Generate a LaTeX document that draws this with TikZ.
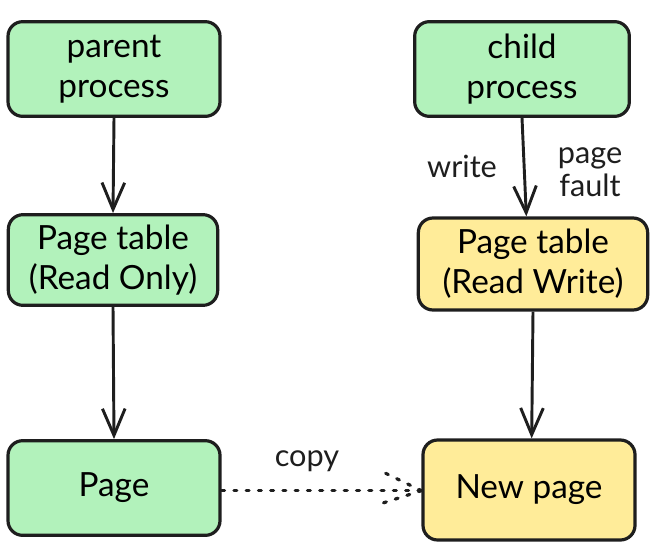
\documentclass[tikz,border=0pt]{standalone}
\usepackage{fontspec}
\setmainfont{Lato}
\usetikzlibrary{arrows.meta}
\definecolor{gfill}{HTML}{B2F2BB}
\definecolor{yfill}{HTML}{FFEC99}
\definecolor{ink}{HTML}{1E1E1E}
\tikzset{
  box/.style={draw=ink, line width=2.4pt, rounded corners=11pt, align=center,
    font=\fontsize{25}{30}\selectfont, inner sep=0pt},
  gbox/.style={box, fill=gfill},
  ybox/.style={box, fill=yfill},
  conn/.style={draw=ink, line width=2.2pt, -{Straight Barb[length=20pt,width=17pt,line width=2.2pt]}},
  lbl/.style={font=\fontsize{23}{25}\selectfont, text=ink, align=center},
  dots/.style={draw=ink, line width=2.4pt, line cap=round, dash pattern=on 2.2pt off 7pt}
}
\begin{document}
\begin{tikzpicture}[x=0.75pt,y=-0.75pt]
\useasboundingbox (0,0) rectangle (656,553);
\node[gbox, minimum width=159pt, minimum height=71pt] (parent) at (114,69) {parent\\process};
\node[gbox, minimum width=161pt, minimum height=71pt] (child) at (522,69) {child\\process};
\node[gbox, minimum width=157pt, minimum height=68pt] (ptro) at (113,260) {Page table\\(Read Only)};
\node[ybox, minimum width=172pt, minimum height=69pt] (ptrw) at (533,264) {Page table\\(Read Write)};
\node[gbox, minimum width=159pt, minimum height=71pt] (page) at (114,488) {Page};
\node[ybox, minimum width=159pt, minimum height=75pt] (newpage) at (529,490) {New page};
\draw[conn] (parent.south) -- (ptro.north);
\draw[conn] (ptro.south) -- (page.north);
\draw[conn] (child.south) -- ([xshift=-5pt]ptrw.north);
\draw[conn] (ptrw.south) -- ([xshift=2pt]newpage.north);
\node[lbl] (write) at (462,166) {write};
\node[lbl] (fault) at (590,172) {page\\fault};
\node[lbl] (copy) at (307,461) {copy};
\coordinate (tip) at ([yshift=-0.5pt]newpage.west);
\coordinate (b1) at (383,472);
\coordinate (b2) at (383,503);
\draw[dots] (page.east |- tip) -- (tip);
\draw[dots] (tip) -- (b1);
\draw[dots] (tip) -- (b2);
\end{tikzpicture}
\end{document}
